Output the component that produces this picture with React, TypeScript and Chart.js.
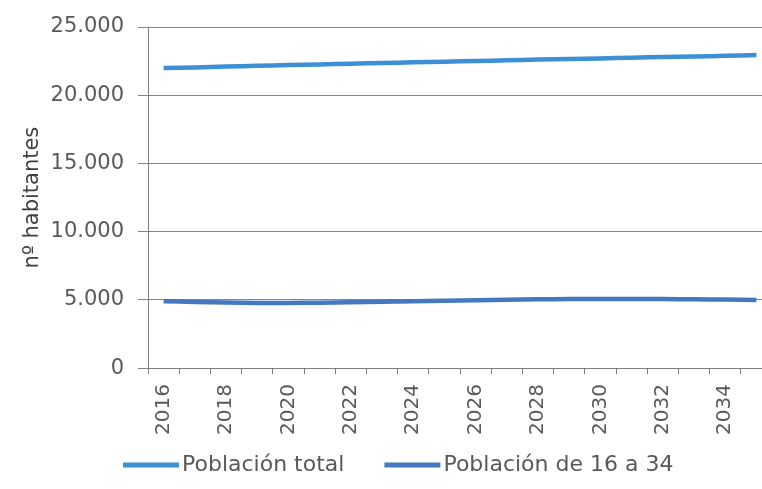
import React, { useEffect, useRef } from "react";
import { Chart, registerables } from "chart.js";

Chart.register(...registerables);

const years: string[] = [
  "2016", "2017", "2018", "2019", "2020", "2021", "2022", "2023", "2024", "2025",
  "2026", "2027", "2028", "2029", "2030", "2031", "2032", "2033", "2034", "2035",
];

const poblacionTotal: number[] = [
  21990, 22040, 22100, 22160, 22210, 22260, 22310, 22360, 22410, 22460,
  22510, 22560, 22610, 22660, 22700, 22750, 22800, 22840, 22890, 22940,
];

const poblacion16a34: number[] = [
  4900, 4850, 4800, 4780, 4780, 4790, 4820, 4860, 4900, 4940,
  4980, 5010, 5040, 5060, 5070, 5070, 5060, 5040, 5020, 5000,
];

const yTicks: number[] = [0, 5000, 10000, 15000, 20000, 25000];

const seriesNames: string[] = ["Población total", "Población de 16 a 34"];
const seriesColors: string[] = ["#3d8fd6", "#4479c1"];

const FONT = "'DejaVu Sans', 'Open Sans', sans-serif";
const TEXT = "#595959";

const fmt = (v: number) => v.toString().replace(/\B(?=(\d{3})+(?!\d))/g, ".");

// Legend drawn under the axis: a short line sample right before each name.
const bottomLegend = {
  id: "bottomLegend",
  afterDraw(chart: any) {
    const { ctx, chartArea } = chart;
    const y = chartArea.bottom + 97;
    const sample = 56;
    const gap = 3;
    const itemGap = 40;
    ctx.save();
    ctx.font = `22px ${FONT}`;
    ctx.textBaseline = "middle";
    ctx.textAlign = "left";
    let x = 123;
    seriesNames.forEach((name, i) => {
      ctx.strokeStyle = seriesColors[i];
      ctx.lineWidth = 5;
      ctx.beginPath();
      ctx.moveTo(x, y);
      ctx.lineTo(x + sample, y);
      ctx.stroke();
      x += sample + gap;
      ctx.fillStyle = TEXT;
      ctx.fillText(name, x, y);
      x += ctx.measureText(name).width + itemGap;
    });
    ctx.restore();
  },
};

export default function App() {
  const ref = useRef<HTMLCanvasElement | null>(null);

  useEffect(() => {
    document.body.style.margin = "0";
    const canvas = ref.current;
    if (!canvas) return;
    const chart = new Chart(canvas, {
      type: "line",
      data: {
        labels: years,
        datasets: [
          {
            label: seriesNames[0],
            data: poblacionTotal,
            borderColor: seriesColors[0],
            backgroundColor: seriesColors[0],
            borderWidth: 4.5,
            pointRadius: 0,
            tension: 0.3,
          },
          {
            label: seriesNames[1],
            data: poblacion16a34,
            borderColor: seriesColors[1],
            backgroundColor: seriesColors[1],
            borderWidth: 4.5,
            pointRadius: 0,
            tension: 0.3,
          },
        ],
      },
      options: {
        responsive: false,
        animation: false,
        layout: { padding: { left: 18, right: 0, top: 27, bottom: 44 } },
        plugins: {
          tooltip: { enabled: false },
          legend: { display: false },
        },
        scales: {
          x: {
            offset: true,
            afterFit: (scale: any) => {
              scale.paddingLeft = 0;
              scale.paddingRight = 0;
            },
            grid: {
              offset: true,
              drawOnChartArea: false,
              drawTicks: true,
              tickLength: 6,
              color: "#7f7f7f",
            },
            border: { display: true, color: "#7f7f7f", width: 1 },
            ticks: {
              autoSkip: false,
              maxRotation: 90,
              minRotation: 90,
              padding: 10,
              color: TEXT,
              font: { family: FONT, size: 20 },
              callback: (_v: any, i: number) => (i % 2 === 0 ? years[i] : ""),
            },
          },
          y: {
            min: 0,
            max: 25000,
            afterBuildTicks: (scale: any) => {
              scale.ticks = yTicks.map((v) => ({ value: v }));
            },
            afterFit: (scale: any) => {
              scale.width = 148 - 18;
            },
            grid: {
              color: "#858585",
              lineWidth: 1,
              tickLength: 10,
            },
            border: { display: true, color: "#7f7f7f", width: 1 },
            ticks: {
              color: TEXT,
              padding: 14,
              font: { family: FONT, size: 21 },
              callback: (v: any) => fmt(Number(v)),
            },
            title: {
              display: true,
              text: "nº habitantes",
              color: "#404040",
              font: { family: FONT, size: 21 },
              padding: 2,
            },
          },
        },
      },
      plugins: [bottomLegend],
    });
    return () => chart.destroy();
  }, []);

  return (
    <div style={{ width: 762, height: 489, overflow: "hidden", position: "relative" }}>
      <canvas ref={ref} width={772} height={489} style={{ display: "block" }} />
    </div>
  );
}
